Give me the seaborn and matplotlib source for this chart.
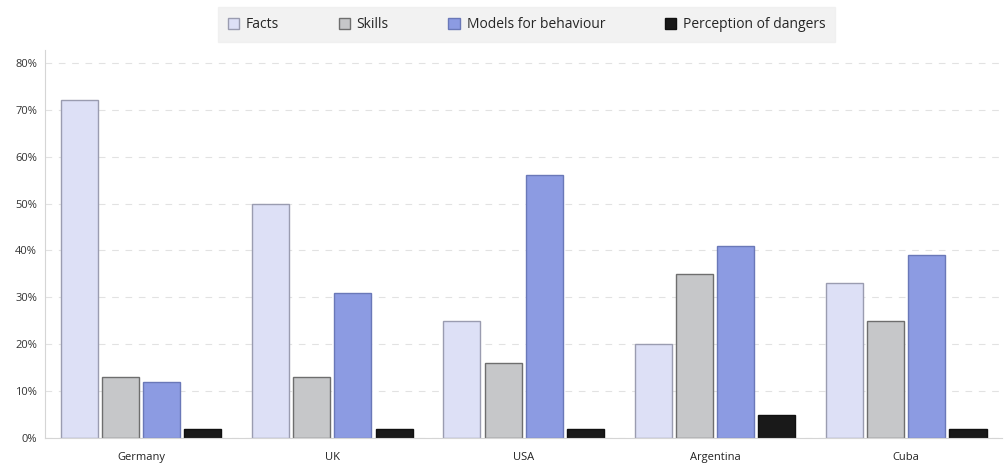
import pandas as pd
import matplotlib.pyplot as plt
import seaborn as sns
from matplotlib.ticker import PercentFormatter

countries = ['Germany', 'UK', 'USA', 'Argentina', 'Cuba']
categories = ['Facts', 'Skills', 'Models for behaviour', 'Perception of dangers']
facts = [72, 50, 25, 20, 33]
skills = [13, 13, 16, 35, 25]
models = [12, 31, 56, 41, 39]
dangers = [2, 2, 2, 5, 2]

colors = ['#dde0f6', '#c6c7c9', '#8c9be2', '#191919']
edges = ['#9a9cb0', '#6e6e6e', '#6a78b8', '#101010']

rows = []
for series, vals in zip(categories, [facts, skills, models, dangers]):
    for c, v in zip(countries, vals):
        rows.append({'Country': c, 'Type': series, 'Value': v})
df = pd.DataFrame(rows)

sns.set_style("white")
plt.rcParams['font.family'] = ['Open Sans', 'DejaVu Sans']

fig = plt.figure(figsize=(10.07, 4.65), dpi=100)
ax = fig.add_axes([0.045, 0.058, 0.95, 0.835])

sns.barplot(data=df, x='Country', y='Value', hue='Type', order=countries,
            hue_order=categories, palette=colors, saturation=1, width=0.86, gap=0.1,
            linewidth=1, ax=ax)

for i, cont in enumerate(ax.containers):
    for bar in cont:
        bar.set_edgecolor(edges[i])

ax.set_ylim(0, 82.8)
ax.set_xlim(-0.5, 4.5)
ax.set_yticks(range(0, 81, 10))
ax.yaxis.set_major_formatter(PercentFormatter(decimals=0))
ax.yaxis.grid(True, linestyle=(0, (6, 6)), color='#e2e2e2', linewidth=0.8)
ax.set_axisbelow(True)
ax.set_xlabel('')
ax.set_ylabel('')
ax.tick_params(axis='y', labelsize=8, colors='#333333', length=0, pad=6)
ax.tick_params(axis='x', labelsize=8, colors='#222222', length=0, pad=10)
ax.set_xticks([i - 0.5 for i in range(1, 5)], minor=True)
ax.tick_params(axis='x', which='minor', length=4, color='#cccccc', direction='out')
for s in ['top', 'right']:
    ax.spines[s].set_visible(False)
for s in ['left', 'bottom']:
    ax.spines[s].set_color('#d5d5d5')
    ax.spines[s].set_linewidth(0.8)

leg = ax.legend(loc='center', bbox_to_anchor=(0.503, 1.065), ncol=4, frameon=True,
                fontsize=10, handlelength=0.8, handleheight=0.8, columnspacing=4.3,
                handletextpad=0.5, borderpad=0.7, fancybox=False, borderaxespad=0)
leg.get_frame().set_facecolor('#efefef')
leg.get_frame().set_edgecolor('#efefef')
for h, e in zip(leg.legend_handles, edges):
    h.set_edgecolor(e)
    h.set_linewidth(1)

plt.savefig('out.png', dpi=100)
